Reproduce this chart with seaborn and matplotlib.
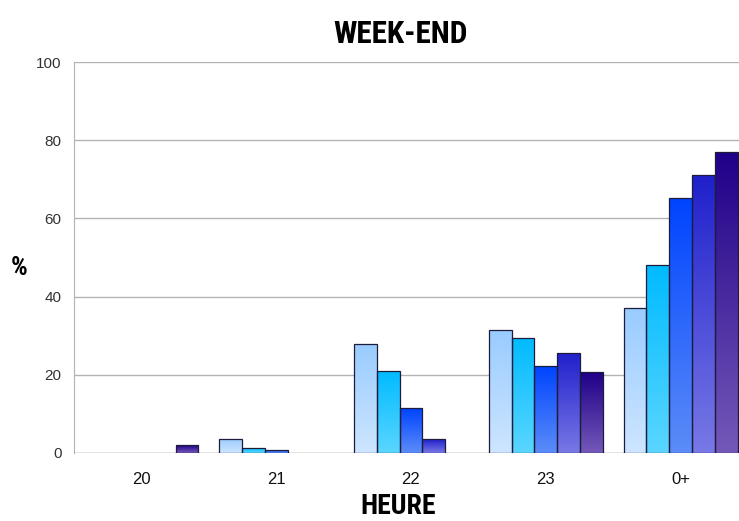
import numpy as np
import pandas as pd
import seaborn as sb
import matplotlib
matplotlib.use("Agg")
import matplotlib.pyplot as plt
from matplotlib.colors import to_rgb
from matplotlib import font_manager

hours = ["20", "21", "22", "23", "0+"]
series = ["s1", "s2", "s3", "s4", "s5"]
s1 = [0, 3.7, 27.9, 31.5, 37.1]
s2 = [0, 1.3, 21.0, 29.5, 48.1]
s3 = [0, 0.8, 11.5, 22.2, 65.1]
s4 = [0, 0, 3.5, 25.6, 71.1]
s5 = [2.0, 0, 0, 20.7, 77.1]

top_colors = ["#99CCFF", "#00BBFF", "#0044FF", "#2020CC", "#200088"]
bottom_colors = ["#CDE5FF", "#5AD6FF", "#5C8CF8", "#7878E6", "#7458B8"]

rows = []
for name, vals in zip(series, [s1, s2, s3, s4, s5]):
    for h, v in zip(hours, vals):
        rows.append({"heure": h, "serie": name, "pct": v})
df = pd.DataFrame(rows)

sb.set_style("white")
plt.rcParams["font.family"] = ["Liberation Sans", "DejaVu Sans"]

# narrow bold face for the titles, if one is installed
names = set(f.name for f in font_manager.fontManager.ttflist)
narrow = [n for n in ["Liberation Sans Narrow", "DejaVu Sans Condensed",
                      "Roboto Condensed", "Open Sans Condensed"] if n in names]
title_font = narrow + ["DejaVu Sans"]

fig = plt.figure(figsize=(7.39, 5.21), dpi=100)
ax = fig.add_axes([74 / 739, 1 - 453 / 521, 674 / 739, 391 / 521])

sb.barplot(data=df, x="heure", y="pct", hue="serie", order=hours,
           hue_order=series, palette=top_colors, width=0.845,
           edgecolor="#1c1c3c", linewidth=0.9, legend=False, ax=ax,
           zorder=3)

# gradient fill inside each bar
for i, cont in enumerate(ax.containers):
    c_top = np.array(to_rgb(top_colors[i]))
    c_bot = np.array(to_rgb(bottom_colors[i]))
    t = np.linspace(0, 1, 64)[:, None, None]
    grad = c_bot + (c_top - c_bot) * t
    for bar in cont:
        h = bar.get_height()
        if h <= 0:
            bar.set_visible(False)
            continue
        x0 = bar.get_x()
        w = bar.get_width()
        im = ax.imshow(grad, extent=[x0, x0 + w, 0, h], origin="lower",
                       aspect="auto", zorder=2.5, interpolation="bilinear")
        im.set_clip_path(bar)
        bar.set_facecolor("none")

ax.set_xlim(-0.5, 4.5)
ax.set_ylim(0, 100)
ax.set_yticks([0, 20, 40, 60, 80, 100])
ax.yaxis.grid(True, color="#b3b3b3", linewidth=1)
ax.set_axisbelow(True)
for s in ["top", "right", "bottom"]:
    ax.spines[s].set_visible(False)
ax.spines["left"].set_color("#b3b3b3")
ax.axhline(0, color="#b3b3b3", linewidth=1, zorder=1)

ax.set_xticks(range(len(hours)))
ax.set_xticklabels(hours)
ax.set_xticks(np.arange(-0.5, 5, 1), minor=True)
ax.tick_params(axis="x", which="major", length=0, pad=14, labelsize=12,
               labelcolor="#111111")
ax.tick_params(axis="x", which="minor", length=7, color="#b3b3b3", width=1)
ax.tick_params(axis="y", length=5, color="#b3b3b3", width=1, pad=4,
               labelsize=11, labelcolor="#333333")
ax.set_xlabel("")
ax.set_ylabel("")

fig.text(401 / 739, 1 - 34 / 521, "WEEK-END", ha="center", va="center",
         fontsize=22.5, fontweight="bold", family=title_font,
         fontstretch="condensed", color="black")
fig.text(398 / 739, 1 - 506 / 521, "HEURE", ha="center", va="center",
         fontsize=20, fontweight="bold", family=title_font,
         fontstretch="condensed", color="black")
fig.text(19 / 739, 1 - 268 / 521, "%", ha="center", va="center",
         fontsize=19, fontweight="bold", family=title_font, color="black")

fig.savefig("out.png", dpi=100)
